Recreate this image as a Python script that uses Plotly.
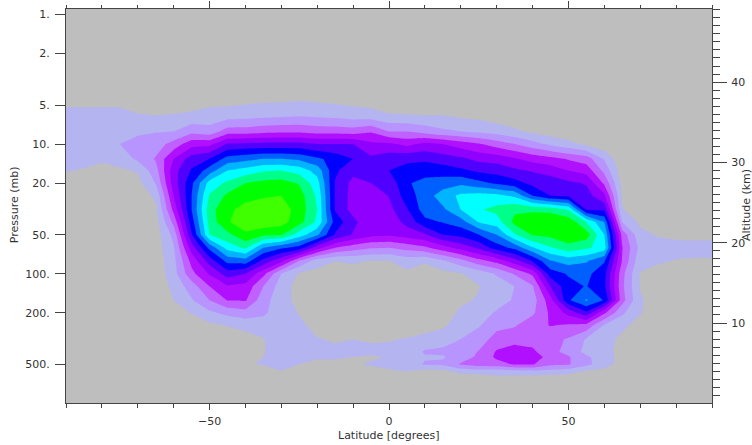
import math
import numpy as np
import plotly.graph_objects as go

LATITUDES = list(range(-90, 95, 5))
PRESSURES = [1, 3, 4.5, 6, 8, 10, 13, 16, 20, 25, 32, 40, 50, 63, 80, 100, 125, 160, 200, 250, 320, 400, 440, 500, 560, 630, 1000]

# one row per latitude, one value per pressure level
Z_BY_LAT = [
 [0,0,.7,1.3,1.5,1.5,1.3,1.03,.8,.5,.3,.2,.1,0,0,0,0,0,0,0,0,0,0,0,0,0,0],
 [0,0,.7,1.3,1.5,1.5,1.2,.95,.7,.4,.3,.2,.1,0,0,0,0,0,0,0,0,0,0,0,0,0,0],
 [0,0,.7,1.3,1.6,1.6,1.1,.8,.5,.3,.2,.1,0,0,0,0,0,0,0,0,0,0,0,0,0,0,0],
 [0,0,.8,1.2,1.7,2.0,1.4,.85,.5,.3,.2,.1,0,0,0,0,0,0,0,0,0,0,0,0,0,0,0],
 [0,0,.6,1.05,1.85,2.3,2.2,1.1,.7,.4,.2,.1,0,0,0,0,0,0,0,0,0,0,0,0,0,0,0],
 [0,0,.5,1.0,1.95,2.5,3.1,2.6,2.05,1.2,.8,.6,.5,.5,.4,.3,.2,.1,0,0,0,0,0,0,0,0,0],
 [0,0,.4,1.05,2.0,3.4,5.0,5.6,5.5,5.0,4.3,3.3,2.3,1.9,1.7,1.6,1.3,1.0,.6,.3,.1,0,0,0,0,0,0],
 [0,0,.4,1.2,2.7,4.6,6.5,7.1,7.8,8.0,8.0,7.5,6.9,5.5,4.3,3.7,2.5,1.9,1.05,.6,.3,.1,0,0,0,0,0],
 [0,0,.6,1.4,2.4,4.7,7.0,8.5,10.4,11.1,11.6,11.4,11,8.3,6.4,5.1,4.0,3.0,1.8,.8,.3,.1,0,0,0,0,0],
 [0,0,.6,1.5,3.5,6.1,8.4,10,11.2,12.2,12.8,12.9,11.7,10.4,8.3,6.5,4.9,4.05,2.3,1.05,.5,.2,.1,.1,0,0,0],
 [0,0,.7,1.6,3.5,6.2,8.7,10.4,12.0,12.7,13.3,13.6,12.8,11.2,8.5,6,4.7,4.1,2.6,1.3,.6,.3,.6,.95,.5,.2,0],
 [0,0,.8,1.7,3.7,6.3,9.0,10.9,12.3,12.9,13.5,13.7,12.2,9,6.6,4.3,3.0,2.4,2.2,1.5,.95,.95,1.0,1.05,.7,.3,0],
 [0,0,.8,1.8,3.8,6.3,9.0,11,12.4,13,13.5,13.4,12.1,8.2,5.2,2.0,1.5,1.4,1.4,1.5,1.5,1.4,1.4,1.3,1.0,.5,0],
 [0,0,.9,1.9,3.8,6.3,8.8,10.6,11.9,12.5,12.6,12.4,10.5,7.6,2.9,.9,.6,.7,.95,1.2,1.3,1.4,1.2,1.0,.6,.3,0],
 [0,0,.8,1.8,3.6,6,8.2,9.6,10.4,10.8,11,10.8,9.2,5.4,1.4,.7,.4,.4,.4,.7,1.05,1.3,1.1,.8,.5,.2,0],
 [0,0,.7,1.7,3.6,6,7.6,7.2,6.9,6.9,6.9,7.6,6.9,4.0,1.0,.6,.3,.3,.3,.4,.9,1.2,1.1,.8,.5,.2,0],
 [0,0,.6,1.5,3.5,6.0,7.0,6.3,5.7,5.6,5.6,6.3,5.9,3.5,1.1,.7,.3,.3,.3,.4,1.0,1.2,1.0,.9,.5,.2,0],
 [0,0,.5,1.4,3.9,5.2,6.2,6.5,6.0,5.4,5.2,5.2,5.3,3.1,.95,.6,.3,.3,.3,.4,.9,1.2,.9,1.1,.7,.3,0],
 [0,0,.3,1.1,3,5.2,6.6,7,6.3,6.05,5.7,5.4,5.2,3.0,.95,.6,.3,.3,.3,.4,.95,1.2,1.05,1.2,.95,.3,0],
 [0,0,.3,1.05,3.0,4.7,6.8,7.3,7.9,7.5,6.9,6.3,5.5,3.4,1.4,.8,.5,.3,.3,.4,1.05,1.5,1.4,1.5,1.05,.4,0],
 [0,0,.2,1.0,2.6,5.3,6.8,7.6,8.3,8.5,8.5,7.7,5.9,3.8,1.1,.6,.4,.3,.3,.4,1.4,2.1,1.9,2.1,.8,.3,0],
 [0,0,.2,1.0,2.2,5,6.5,7.5,8.5,9.5,8.8,8.05,7.0,4.6,1.8,.7,.5,.4,.5,.8,1.6,2.2,1.9,2.2,.85,.3,0],
 [0,0,.1,.8,2.0,4.5,6.2,7.2,8.8,10.2,10.0,8.5,7.3,5.4,2.6,.95,.7,.8,1.2,1.5,2.0,2.4,2.5,3.1,1.5,.4,0],
 [0,0,.1,.7,1.8,4.1,5.7,6.8,8.3,10.4,10.9,10.05,8,6.2,3.6,1.4,.95,1.1,1.6,1.9,2.5,3.05,3.2,3.5,1.7,.4,0],
 [0,0,0,.4,1.6,3.5,5.6,6.6,7.8,10.3,11.3,10.5,9.0,7.5,4.3,2.1,1.5,1.6,2.1,2.7,3.4,4.1,4.2,3.6,1.7,.8,0],
 [0,0,0,.3,1.2,3.0,5.1,6.2,7.4,9.8,11.8,12.3,10.9,8.3,5.5,3.1,2.0,2.1,2.5,2.9,3.6,4.5,4.7,4.1,1.9,.7,0],
 [0,0,0,.1,.8,2.4,4.6,5.9,6.7,8,11.8,12.7,12.1,9.9,7.0,4.2,2.9,2.5,2.8,3.6,3.6,4.2,4.7,4.1,2,.7,0],
 [0,0,0,0,.5,1.8,4.3,5.6,6.5,7.0,11.7,12.8,12.3,10.9,8.9,7.5,6.0,4.6,4.2,4.05,3.3,3.3,3.5,3.2,1.8,.6,0],
 [0,0,0,0,.3,1.3,3.9,5.0,6.2,6.8,10.9,12.7,12.8,11.6,9.4,8.1,7.7,7.85,5.3,3.9,2.9,2.7,3.1,3.1,1.6,.5,0],
 [0,0,0,0,.1,.8,3.5,4.6,5.9,6.4,6.9,11,12.5,11.2,9.1,8.3,8.05,9.1,6.8,3.7,1.9,1.7,2.2,2.3,1.0,.4,0],
 [0,0,0,0,0,.3,1.9,2.7,3.8,5.2,6.8,9,10,10.5,8.1,7.3,7.2,7.9,4.2,1.9,1.3,1.3,1.4,1.4,.8,.3,0],
 [0,0,0,0,0,0,.2,.4,.7,.9,1.05,2,3.6,4.05,3.9,3.3,3.2,3.4,2.2,1.2,.8,.7,.7,.6,.3,.1,0],
 [0,0,0,0,0,0,0,0,.2,.3,.5,.8,1.3,1.7,1.3,.95,.95,1.1,1.05,.7,.4,.2,.1,0,0,0,0],
 [0,0,0,0,0,0,0,0,.1,.2,.3,.5,.9,1.4,1.1,.7,.5,.6,.6,.3,.1,0,0,0,0,0,0],
 [0,0,0,0,0,0,0,0,0,.1,.2,.4,.8,1.3,.95,.6,.3,.2,.1,0,0,0,0,0,0,0,0],
 [0,0,0,0,0,0,0,0,0,.1,.2,.4,.75,1.3,.9,.6,.3,.2,.1,0,0,0,0,0,0,0,0],
 [0,0,0,0,0,0,0,0,0,.1,.2,.4,.75,1.3,.9,.6,.3,.2,.1,0,0,0,0,0,0,0,0],
]

BAND_COLORS = ["#bebebe", "#b4b4f0", "#b894ff", "#c060ff", "#b010ff", "#9000ff", "#5000ff",
               "#0000ff", "#0060ff", "#00b4ff", "#00ffff", "#00ff88", "#00ff00", "#40ff00"]

PRESSURE_TICKS = [1, 2, 5, 10, 20, 50, 100, 200, 500]
PRESSURE_LABELS = ["1.", "2.", "5.", "10.", "20.", "50.", "100.", "200.", "500."]
LAT_TICKS = [-50, 0, 50]
LAT_LABELS = ["\u221250", "0", "50"]
ALT_TICKS = [10, 20, 30, 40]

FONT = "DejaVu Sans"
INK = "#333333"
AXIS = "#444444"

n = len(BAND_COLORS)
scale = []
for i, c in enumerate(BAND_COLORS):
    scale += [[i / n, c], [(i + 1) / n, c]]

fig = go.Figure()
fig.add_trace(go.Contour(
    x=LATITUDES, y=PRESSURES, z=np.array(Z_BY_LAT).T.tolist(),
    zmin=0, zmax=n, colorscale=scale, showscale=False,
    autocontour=False, contours=dict(start=1, end=n - 1, size=1, coloring="fill"),
    line=dict(width=0, smoothing=0), hoverinfo="skip",
))
fig.add_trace(go.Scatter(x=[], y=[], xaxis="x2", yaxis="y2", showlegend=False))

tf = dict(family=FONT, size=11, color=INK)
fig.update_layout(
    width=752, height=445, autosize=False,
    margin=dict(l=66, r=40, t=9, b=42, autoexpand=False),
    paper_bgcolor="white", plot_bgcolor="#bebebe", showlegend=False,
    xaxis=dict(range=[-90, 90], tickvals=LAT_TICKS, ticktext=LAT_LABELS, ticks="outside", ticklen=6,
               tickcolor=AXIS, showgrid=False, zeroline=False, showline=True, linecolor=AXIS, linewidth=1,
               tickfont=tf, ticklabelstandoff=2, automargin=False,
               minor=dict(tick0=-90, dtick=10, ticks="outside", ticklen=4, tickcolor=AXIS, showgrid=False)),
    xaxis2=dict(range=[-90, 90], overlaying="x", side="top", anchor="y2", dtick=50, tick0=0, ticks="outside", ticklen=7,
                tickcolor=AXIS, showticklabels=False, showgrid=False, zeroline=False,
                showline=True, linecolor=AXIS, linewidth=1, automargin=False,
                minor=dict(tick0=-90, dtick=10, ticks="outside", ticklen=3, tickcolor=AXIS, showgrid=False)),
    yaxis=dict(type="log", range=[math.log10(995), math.log10(0.907)], tickvals=PRESSURE_TICKS, ticktext=PRESSURE_LABELS,
               ticks="outside", ticklen=10, tickcolor=AXIS, showgrid=False, zeroline=False,
               showline=True, linecolor=AXIS, linewidth=1, tickfont=tf, ticklabelstandoff=3, automargin=False),
    yaxis2=dict(range=[0.04, 49.1], overlaying="y", side="right", anchor="x2", tickvals=ALT_TICKS, ticks="outside", ticklen=14,
                tickcolor=AXIS, showgrid=False, zeroline=False, showline=True, linecolor=AXIS, linewidth=1,
                tickfont=tf, ticklabelstandoff=2, automargin=False,
                minor=dict(tick0=0, dtick=1, ticks="outside", ticklen=7, tickcolor=AXIS, showgrid=False)),
    annotations=[
        dict(text="Latitude [degrees]", xref="paper", yref="paper", x=0.5, y=-0.0825, yanchor="middle",
             showarrow=False, font=tf),
        dict(text="Pressure (mb)", xref="paper", yref="paper", x=-0.08, y=0.503, textangle=-90, xanchor="center",
             yanchor="middle", showarrow=False, font=tf),
        dict(text="Altitude (km)", xref="paper", yref="paper", x=1.0545, y=0.503, textangle=-90, xanchor="center",
             yanchor="middle", showarrow=False, font=tf),
    ],
)
fig.write_html("out.html", config=dict(displayModeBar=False), post_script="document.body.style.margin='0';")
